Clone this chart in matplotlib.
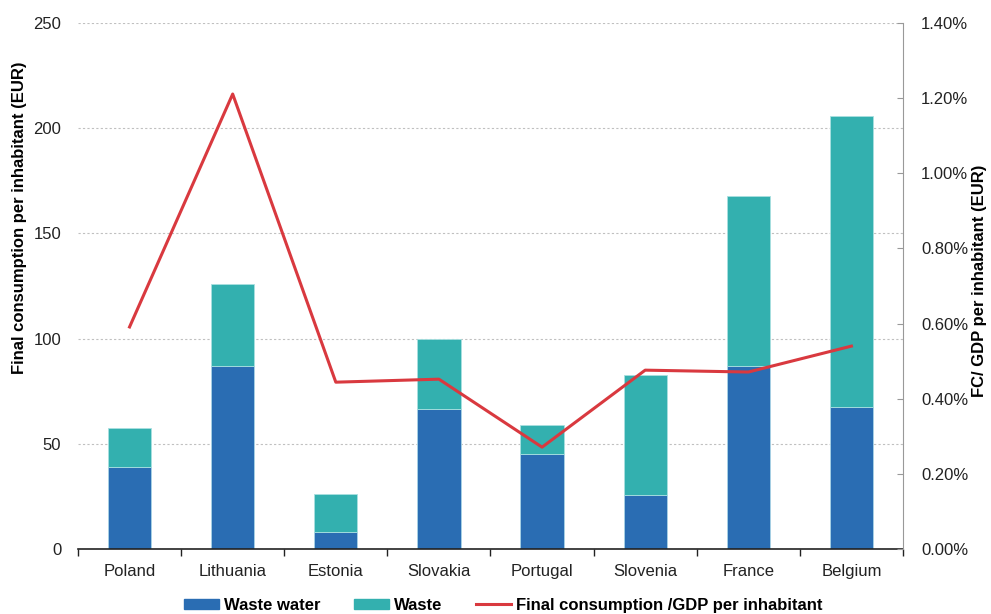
import matplotlib
matplotlib.use("Agg")
import matplotlib.pyplot as plt
from matplotlib.patches import Patch
from matplotlib.lines import Line2D
from matplotlib.ticker import FuncFormatter, MultipleLocator
import numpy as np

countries = ["Poland", "Lithuania", "Estonia", "Slovakia", "Portugal", "Slovenia", "France", "Belgium"]
waste_water = [39, 87, 8, 66.5, 45, 25.7, 87, 67.5]
waste = [18.5, 39, 18, 33.5, 14, 57, 81, 138.5]
fc_gdp = [0.591, 1.211, 0.444, 0.452, 0.271, 0.476, 0.471, 0.540]

C_WW = "#2A6DB3"
C_W = "#33B0AF"
C_LINE = "#D9393F"

plt.rcParams["font.family"] = ["Liberation Sans", "DejaVu Sans"]

fig = plt.figure(figsize=(9.91, 6.14), dpi=100)
ax = fig.add_axes([0.0787, 0.1059, 0.8325, 0.8566])
x = np.arange(len(countries))
w = 0.42
ax.bar(x, waste_water, w, color=C_WW, edgecolor="#a9d3e6", linewidth=0.6, zorder=2)
ax.bar(x, waste, w, bottom=waste_water, color=C_W, edgecolor="#a9e0e0", linewidth=0.6, zorder=2)

ax.set_xlim(-0.5, len(countries) - 0.5)
ax.set_ylim(0, 250)
ax.yaxis.set_major_locator(MultipleLocator(50))
ax.grid(axis="y", color="#c0c0c0", linestyle=(0, (2, 2)), linewidth=0.8, zorder=0)
ax.set_axisbelow(True)
for s in ["left", "right", "top"]:
    ax.spines[s].set_visible(False)
ax.spines["bottom"].set_color("#222222")
ax.spines["bottom"].set_linewidth(1.2)
ax.set_xticks(x)
ax.set_xticklabels(countries, fontsize=12, color="#222222")
ax.set_xticks(np.arange(-0.5, len(countries), 1), minor=True)
ax.tick_params(axis="x", which="major", length=0, pad=11)
ax.tick_params(axis="x", which="minor", length=5, width=1, color="#222222")
ax.tick_params(axis="y", length=0, labelsize=12, labelcolor="#222222", pad=12)
ax.set_ylabel("Final consumption per inhabitant (EUR)", fontsize=12, fontweight="bold")
ax.yaxis.label.set_verticalalignment("center")
ax.yaxis.set_label_coords(-0.0703, 0.63)

ax2 = ax.twinx()
ax2.plot(x, fc_gdp, color=C_LINE, linewidth=2.2, zorder=3)
ax2.set_ylim(0, 1.4)
ax2.yaxis.set_major_locator(MultipleLocator(0.2))
ax2.yaxis.set_major_formatter(FuncFormatter(lambda v, p: f"{v:.2f}%"))
for s in ["left", "bottom", "top"]:
    ax2.spines[s].set_visible(False)
ax2.spines["right"].set_color("#999999")
ax2.tick_params(axis="y", direction="in", length=4, color="#999999", labelsize=12, labelcolor="#222222", pad=13)
ax2.set_ylabel("FC/ GDP per inhabitant (EUR)", fontsize=12, fontweight="bold", rotation=90)
ax2.yaxis.label.set_verticalalignment("center")
ax2.yaxis.set_label_coords(1.0933, 0.51)

handles = [Patch(color=C_WW), Patch(color=C_W), Line2D([0], [0], color=C_LINE, lw=2.2)]
labels = ["Waste water", "Waste", "Final consumption /GDP per inhabitant"]
leg = fig.legend(handles, labels, loc="lower center", bbox_to_anchor=(0.508, -0.022), ncol=3, frameon=False,
                 prop={"size": 12, "weight": "bold"}, handlelength=2.1, handleheight=0.55, columnspacing=2.0,
                 handletextpad=0.3)

fig.savefig("out.png", dpi=100)
